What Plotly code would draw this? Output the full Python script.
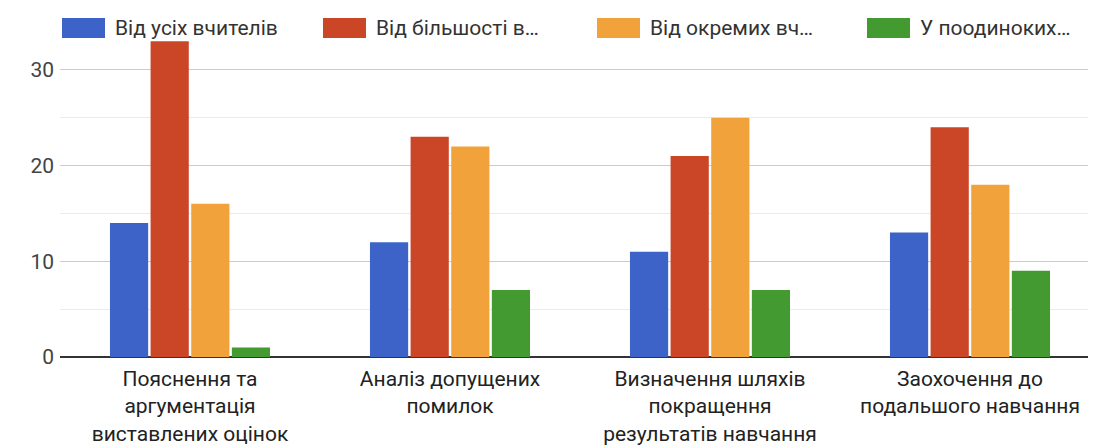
import plotly.graph_objects as go

categories = [
    "Пояснення та<br>аргументація<br>виставлених оцінок",
    "Аналіз допущених<br>помилок",
    "Визначення шляхів<br>покращення<br>результатів навчання",
    "Заохочення до<br>подальшого навчання",
]
series_names = ["Від усіх вчителів", "Від більшості в…", "Від окремих вч…", "У поодиноких…"]
all_teachers = [14, 12, 11, 13]
most_teachers = [33, 23, 21, 24]
some_teachers = [16, 22, 25, 18]
rare_cases = [1, 7, 7, 9]
colors = ["#3d63c8", "#cb4527", "#f1a23b", "#439a31"]

fig = go.Figure()
for name, vals, col in zip(series_names, [all_teachers, most_teachers, some_teachers, rare_cases], colors):
    fig.add_trace(go.Bar(x=categories, y=vals, name=name, marker=dict(color=col, line=dict(width=0))))

# page body adds an 8px offset, so work in figure pixels = screen - 8
off = 8
W, H = 1096, 446
ml, mr, mt, mb = 60 - off, 4, 22 - off, H - (357 - off)
pw, ph = W - ml - mr, H - mt - mb
def px(x):
    return (x - off - ml) / pw
def py(y):
    return (H - mb - (y - off)) / ph

# custom legend with wide swatches, like the reference
legend_x = [62, 323, 597, 867]
shapes = []
annotations = []
for lx, name, col in zip(legend_x, series_names, colors):
    shapes.append(dict(type="rect", xref="paper", yref="paper",
                       x0=px(lx), x1=px(lx + 43), y0=py(38), y1=py(18),
                       fillcolor=col, line=dict(width=0)))
    annotations.append(dict(xref="paper", yref="paper", x=px(lx + 51), y=py(28),
                            text=name, showarrow=False, xanchor="left", yanchor="middle",
                            font=dict(size=21, color="#333333", family="Roboto")))

fig.update_layout(
    width=W, height=H,
    margin=dict(l=ml, r=mr, t=mt, b=mb),
    plot_bgcolor="white", paper_bgcolor="white",
    barmode="group", bargap=0.375, bargroupgap=0.06,
    showlegend=False,
    shapes=shapes, annotations=annotations,
    font=dict(family="Roboto", size=21, color="#333333"),
    xaxis=dict(tickfont=dict(size=21, color="#222222"), showgrid=False, ticks="",
               ticklabelstandoff=7, automargin=False),
    yaxis=dict(range=[0, 35], tickvals=[0, 10, 20, 30], showgrid=True, gridcolor="#cccccc",
               gridwidth=1, zeroline=True, zerolinecolor="#333333", zerolinewidth=2,
               tickfont=dict(size=21, color="#444444"), ticklabelstandoff=5, automargin=False,
               minor=dict(tickvals=[5, 15, 25, 35], showgrid=True, gridcolor="#ebebeb", gridwidth=1)),
)

fig.write_html("out.html")
